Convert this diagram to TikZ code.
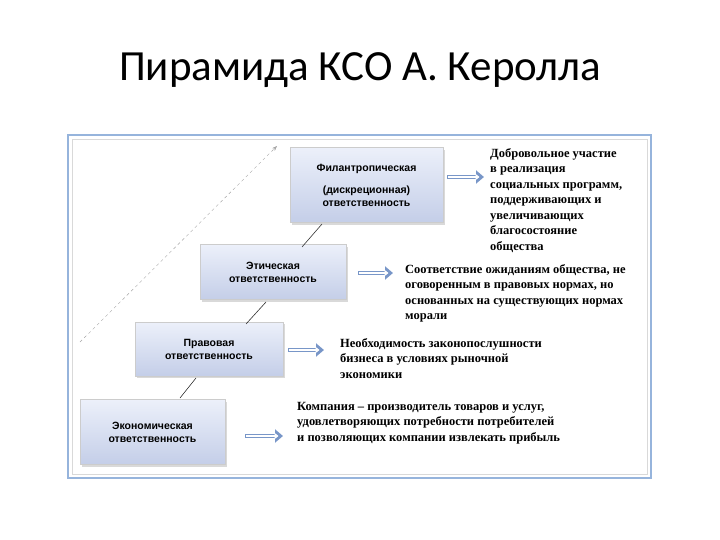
\documentclass[tikz,border=0pt]{standalone}
\usepackage{fontspec}
\setmainfont{Liberation Serif}
\newfontfamily\titlefont{Carlito}
\newfontfamily\boxfont{Liberation Sans}
\usetikzlibrary{shadows,arrows.meta}
\definecolor{boxtop}{RGB}{236,240,250}
\definecolor{boxbot}{RGB}{196,206,232}
\definecolor{framecol}{RGB}{150,180,220}
\definecolor{arrcol}{RGB}{120,150,200}
\tikzset{
 lvl/.style={draw=gray!40, top color=boxtop, bottom color=boxbot, drop shadow={opacity=0.3}, align=center, font=\boxfont\bfseries\fontsize{10.5}{13}\selectfont, inner sep=2pt},
 desc/.style={anchor=north west, align=left, font=\bfseries\fontsize{12.5}{15.5}\selectfont, inner sep=0pt},
 link/.style={draw=black!80, line width=0.6pt}
}
\begin{document}
\begin{tikzpicture}[x=1pt,y=-1pt]
\useasboundingbox (0,0) rectangle (720,540);
\node[font=\titlefont\fontsize{43}{50}\selectfont] (title) at (360,70) {Пирамида КСО А. Керолла};
\draw[framecol, line width=1.5pt] (68,135) rectangle (651,478);
\draw[gray!30, line width=0.6pt] (72,139) rectangle (647,474);
\node[lvl, minimum width=153pt, minimum height=75pt] (phil) at (366.5,185) {Филантропическая\\[9pt](дискреционная)\\ответственность};
\node[lvl, minimum width=146pt, minimum height=55pt] (eth) at (273,272) {Этическая\\ответственность};
\node[lvl, minimum width=148pt, minimum height=54pt] (leg) at (209,349) {Правовая\\ответственность};
\node[lvl, minimum width=145pt, minimum height=65pt] (eco) at (152.5,432) {Экономическая\\ответственность};
\coordinate (a1) at (447,177); \coordinate (b1) at (484,177);
\coordinate (a2) at (358,273); \coordinate (b2) at (393,273);
\coordinate (a3) at (288,350); \coordinate (b3) at (324,350);
\coordinate (a4) at (245,436); \coordinate (b4) at (283,436);
\foreach \i in {1,2,3,4}{\draw[arrcol, line width=4.5pt, -{Triangle[length=8pt,width=13pt]}] (a\i) -- (b\i);
 \draw[white, line width=2pt, shorten >=3pt, -{Triangle[length=4pt,width=6pt]}] ([xshift=1.2pt]a\i) -- ([xshift=-1.5pt]b\i);}
\node[desc] (t1) at (490,148) {Добровольное участие\\в реализация\\социальных программ,\\поддерживающих и\\увеличивающих\\благосостояние\\общества};
\node[desc] (t2) at (405,264) {Соответствие ожиданиям общества, не\\оговоренным в правовых нормах, но\\основанных на существующих нормах\\морали};
\node[desc] (t3) at (340,338) {Необходимость законопослушности\\бизнеса в условиях рыночной\\экономики};
\node[desc] (t4) at (297,402) {Компания -- производитель товаров и услуг,\\удовлетворяющих потребности потребителей\\и позволяющих компании извлекать прибыль};
\coordinate (d1) at (80,342); \coordinate (d2) at (277,146);
\draw[gray!70, dashed, -{Stealth[length=5pt]}] (d1) -- (d2);
\coordinate (c1) at (322,224); \coordinate (c2) at (302,247);
\coordinate (c3) at (266,302); \coordinate (c4) at (246,324);
\coordinate (c5) at (196,378); \coordinate (c6) at (180,398);
\draw[link] (c1) -- (c2); \draw[link] (c3) -- (c4); \draw[link] (c5) -- (c6);
\end{tikzpicture}
\end{document}
